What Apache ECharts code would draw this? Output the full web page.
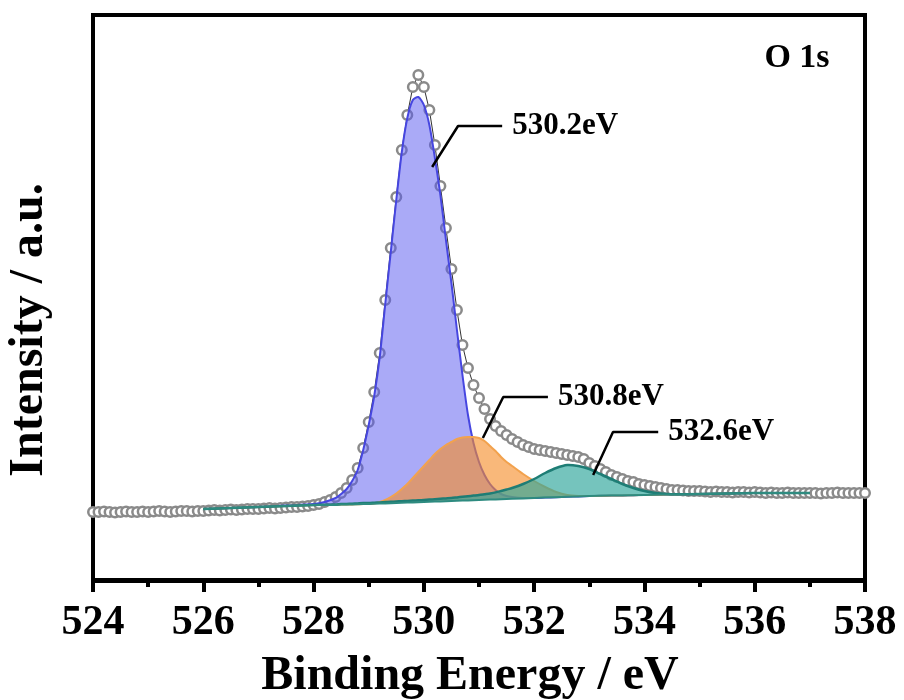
<!DOCTYPE html>
<html>
<head>
<meta charset="utf-8">
<script src="https://cdn.jsdelivr.net/npm/echarts@6/dist/echarts.min.js"></script>
<style>
html,body{margin:0;padding:0;background:#fff;}
#chart{width:904px;height:700px;}
</style>
</head>
<body>
<div id="chart"></div>
<script>
// ---------------- DATA ----------------
// measured spectrum: binding energy (eV)
const energy = [
524.0,524.1,524.2,524.3,524.4,524.5,524.6,524.7,524.8,524.9,
525.0,525.1,525.2,525.3,525.4,525.5,525.6,525.7,525.8,525.9,
526.0,526.1,526.2,526.3,526.4,526.5,526.6,526.7,526.8,526.9,
527.0,527.1,527.2,527.3,527.4,527.5,527.6,527.7,527.8,527.9,
528.0,528.1,528.2,528.3,528.4,528.5,528.6,528.7,528.8,528.9,
529.0,529.1,529.2,529.3,529.4,529.5,529.6,529.7,529.8,529.9,
530.0,530.1,530.2,530.3,530.4,530.5,530.6,530.7,530.8,530.9,
531.0,531.1,531.2,531.3,531.4,531.5,531.6,531.7,531.8,531.9,
532.0,532.1,532.2,532.3,532.4,532.5,532.6,532.7,532.8,532.9,
533.0,533.1,533.2,533.3,533.4,533.5,533.6,533.7,533.8,533.9,
534.0,534.1,534.2,534.3,534.4,534.5,534.6,534.7,534.8,534.9,
535.0,535.1,535.2,535.3,535.4,535.5,535.6,535.7,535.8,535.9,
536.0,536.1,536.2,536.3,536.4,536.5,536.6,536.7,536.8,536.9,
537.0,537.1,537.2,537.3,537.4,537.5,537.6,537.7,537.8,537.9,
538.0];
// measured intensity (a.u.)
const intensity = [
68,68,68.5,68,67.5,68,68.5,68,68,68.5,
68,68.5,69,68.5,68,68.5,69,69,68.5,69,
69,69.5,70,69.5,70,70.5,70,70.5,71,71,
71,71.5,72,71.5,72,72.5,73,73,73.5,74,
75,76,78,80,83,87,92,100,112,132,
158,188,227,280,332,383,430,465,493,505,
493,470,435,394,352,311,270,235,212,195,
182,171,161,154,149,145,141,138,135,133,
131,130,129,128,127,126,125,124,123,121,
117,114,111,108,105,103,101,99,98,96,
95,94,93,92,91,90,90,89.5,89,89,
89,88.5,88,88.5,88,88,87.5,88,88,87.5,
88,87.5,87,87.5,87,87,87.5,87,87,87,
87,87,86.5,87,87,87.5,87,87,87,87,
87];

// fitted components (energy grid, background, peak heights above background)
const fitEnergy = [
526.0,526.5,527.0,527.5,528.0,528.2,528.4,528.5,528.6,528.7,
528.8,528.9,529.0,529.1,529.2,529.3,529.4,529.5,529.6,529.7,
529.8,529.9,530.0,530.1,530.2,530.3,530.4,530.5,530.6,530.7,
530.8,530.9,531.0,531.1,531.2,531.3,531.4,531.5,531.6,531.8,
532.0,532.2,532.4,532.6,532.8,533.0,533.2,533.4,533.6,533.8,
534.0,534.2,534.4,534.6,535.0,535.5,536.0,536.5,537.0];
const background = [
71,72,73,74,75,75,75,75.5,75.5,75.6,
75.8,76,76,76.2,76.4,76.6,76.8,77,77.2,77.4,
77.6,77.8,78,78.2,78.4,78.6,78.8,79,79.2,79.4,
79.6,79.8,80,80.2,80.4,80.6,80.8,81,81.2,81.6,
82,82.4,82.8,83.2,83.6,84,84.2,84.4,84.6,84.8,
85,85.2,85.4,85.6,86,86.5,87,87,87];
const peak530_2 = [
0,0,0,0.5,1,3,7,10.5,15.5,23.4,
34.2,54,79,107.8,146.6,199.4,251.2,303,350.8,384.6,
402.4,405.2,397,376.8,343.6,306.4,261.2,218,170.8,125.6,
85.4,57.2,38,24.8,15.6,9.4,5.2,3,1.8,0.4,
0,0,0,0,0,0,0,0,0,0,
0,0,0,0,0,0,0,0,0];
const peak530_8 = [
0,0,0,0,0,0,0,0,0,0,
0,0,0,0.3,1.6,3.4,6.2,9.5,13.8,18.6,
24.4,30.2,36,41.8,47.6,52.4,56.2,59,61.8,63.1,
63.4,63.2,62,58.8,53.6,48.4,42.2,37,32.8,24.4,
17,10.6,5.2,1.8,0.4,0,0,0,0,0,
0,0,0,0,0,0,0,0,0];
const peak532_6 = [
0,0,0,0,0.1,0.2,0.4,0.5,0.6,0.7,
0.8,0.9,1,1.1,1.2,1.3,1.4,1.5,1.6,1.7,
1.8,1.9,2,2.2,2.4,2.6,2.8,3,3.4,3.8,
4.2,4.6,5,5.6,6.2,7,8.2,9.5,10.8,14.4,
19,24.6,29.2,31.8,30.4,27,21.8,16.6,11.4,7.2,
4,1.8,0.6,0.2,0,0,0,0,0];

// peak annotations: label text and leader line points [eV, intensity]
const annotationLabels = ['530.2eV', '530.8eV', '532.6eV'];
const annotationLeaders = [
  [[530.15, 413], [530.62, 454], [531.42, 454]],
  [[531.07, 142], [531.44, 183], [532.25, 183]],
  [[533.07, 105], [533.43, 148], [534.25, 148]]
];
const xTicks = [524, 526, 528, 530, 532, 534, 536, 538];
const panelLabel = 'O 1s';
const xTitle = 'Binding Energy / eV';
const yTitle = 'Intensity / a.u.';

// ---------------- CHART ----------------
const FONT = '"Liberation Serif","Times New Roman",serif';
const pair = (xs, ys) => xs.map((x, i) => [x, ys[i]]);

const comps = [
  {vals: peak530_2, fill: 'rgba(85,85,240,0.5)', line: '#4646E0', lw: 2},
  {vals: peak530_8, fill: 'rgba(245,140,40,0.62)', line: '#F2A24E', lw: 2},
  {vals: peak532_6, fill: 'rgba(45,165,155,0.66)', line: '#1E7D75', lw: 2.5}
];

const series = [];
series.push({
  type: 'line', name: 'data', data: pair(energy, intensity),
  symbol: 'circle', symbolSize: 9.5, showSymbol: true,
  itemStyle: {color: '#fff', borderColor: '#8a8a8a', borderWidth: 2.5},
  lineStyle: {color: '#333', width: 1},
  z: 2, silent: true
});
comps.forEach((c, k) => {
  series.push({
    type: 'custom',
    data: fitEnergy.map((e, i) => [e, background[i], background[i] + c.vals[i]]),
    encode: {x: 0, y: [1, 2]},
    renderItem: function (params, api) {
      if (params.dataIndex !== 0) return null;
      const top = fitEnergy.map((e, i) => api.coord([e, background[i] + c.vals[i]]));
      const bot = fitEnergy.map((e, i) => api.coord([e, background[i]]));
      const children = [
        {type: 'polygon', shape: {points: top.concat(bot.slice().reverse())},
          style: {fill: c.fill, stroke: 'none'}},
        {type: 'polyline', shape: {points: top, smooth: 0.25},
          style: {fill: 'none', stroke: c.line, lineWidth: c.lw}}
      ];
      if (k === 2) {
        children.push({type: 'polyline', shape: {points: bot},
          style: {fill: 'none', stroke: '#2E8B80', lineWidth: 2}});
      }
      return {type: 'group', children: children};
    },
    z: 3, silent: true
  });
});
annotationLeaders.forEach((pts, k) => {
  series.push({
    type: 'line', data: pts, symbol: 'none',
    lineStyle: {color: '#000', width: 2.5},
    endLabel: {show: true, formatter: annotationLabels[k], distance: 10,
      fontFamily: FONT, fontWeight: 'bold', fontSize: 31, color: '#000'},
    z: 5, silent: true
  });
});

const chart = echarts.init(document.getElementById('chart'));
chart.setOption({
  animation: false,
  backgroundColor: '#fff',
  grid: {left: 93, right: 39, top: 15, bottom: 119, show: true,
    borderColor: '#000', borderWidth: 4, backgroundColor: 'transparent'},
  xAxis: {
    type: 'value', min: 524, max: 538, interval: 2,
    axisLine: {show: true, lineStyle: {color: '#000', width: 4}},
    axisTick: {show: true, length: 12, lineStyle: {color: '#000', width: 4}},
    minorTick: {show: true, splitNumber: 2, length: 7, lineStyle: {color: '#000', width: 4}},
    splitLine: {show: false},
    axisLabel: {margin: 21, fontFamily: FONT, fontWeight: 'bold', fontSize: 42, color: '#000',
      formatter: v => xTicks.indexOf(v) >= 0 ? String(v) : ''}
  },
  yAxis: {
    type: 'value', min: -1, max: 565,
    axisLine: {show: false}, axisTick: {show: false}, axisLabel: {show: false},
    splitLine: {show: false}
  },
  graphic: [
    {type: 'text', x: 470, y: 677, style: {text: xTitle, font: 'bold 48px ' + FONT,
      fill: '#000', textAlign: 'center', textVerticalAlign: 'middle'}},
    {type: 'text', x: 30, y: 330, rotation: Math.PI / 2, style: {text: yTitle, font: 'bold 48px ' + FONT,
      fill: '#000', textAlign: 'center', textVerticalAlign: 'middle'}},
    {type: 'text', x: 797, y: 58, style: {text: panelLabel, font: 'bold 34px ' + FONT,
      fill: '#000', textAlign: 'center', textVerticalAlign: 'middle'}}
  ],
  series: series
});
</script>
</body>
</html>
